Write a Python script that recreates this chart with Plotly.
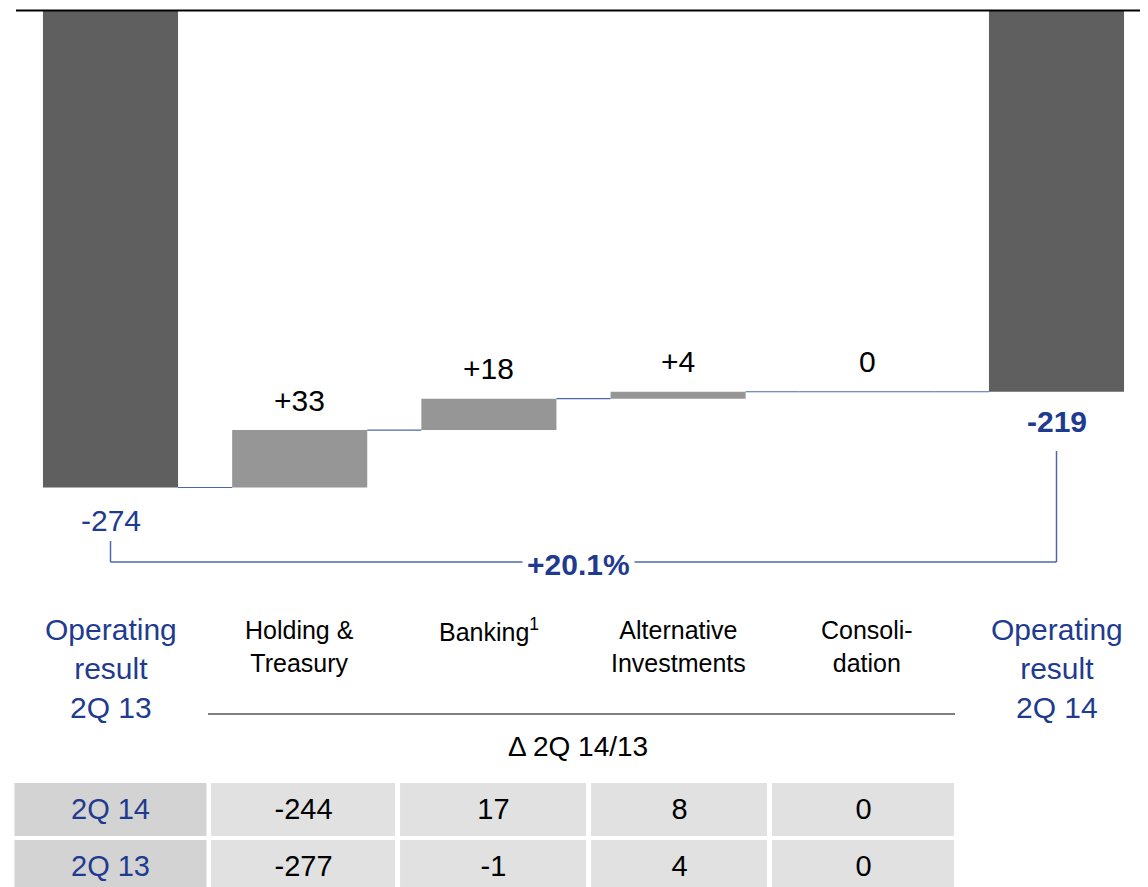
import plotly.graph_objects as go

# ---- data ----
categories = ["Operating<br>result<br>2Q 13", "Holding &<br>Treasury", "Banking<sup>1</sup>",
              "Alternative<br>Investments", "Consoli-<br>dation", "Operating<br>result<br>2Q 14"]
measures = ["absolute", "relative", "relative", "relative", "relative", "total"]
values = [-274, 33, 18, 4, 0, -219]

table_rows = ["2Q 14", "2Q 13"]
table_2q14 = [-244, 17, 8, 0]
table_2q13 = [-277, -1, 4, 0]

BLUE = "#1f3b8f"
LINE_BLUE = "#4c68aa"
DARK = "#5f5f5f"
LIGHT = "#969696"
FONT = "Arial, Liberation Sans, sans-serif"

# page body adds an 8px margin, so the figure is a bit smaller than the window
OFF = 8
W, H = 1148 - OFF, 887 - OFF

def px_(x):
    return (x - OFF) / W

def py(y):
    return 1 - (y - OFF) / H

fig = go.Figure()

n = len(values)
bw = 0.714
hw = bw / 2

fig.add_trace(go.Waterfall(
    x=list(range(n)), y=values, measure=measures,
    width=bw,
    totals=dict(marker=dict(color=DARK, line=dict(width=0))),
    increasing=dict(marker=dict(color=LIGHT, line=dict(width=0))),
    decreasing=dict(marker=dict(color=LIGHT, line=dict(width=0))),
    connector=dict(visible=False),
    hoverinfo="skip",
))

# cumulative levels
cum = []
level = 0
for m, v in zip(measures, values):
    if m == "absolute" or m == "total":
        level = v
    else:
        level = level + v
    cum.append(level)

# connectors
cx, cy = [], []
for i in range(n - 1):
    cx += [i + hw, i + 1 - hw, None]
    cy += [cum[i], cum[i], None]
    if measures[i] == "relative" and values[i] == 0:
        cx += [i - hw, i + hw, None]
        cy += [cum[i], cum[i], None]
fig.add_trace(go.Scatter(x=cx, y=cy, mode="lines", line=dict(color=LINE_BLUE, width=1.2),
                         hoverinfo="skip", showlegend=False))

annotations = []
# delta labels above relative bars
for i in range(n):
    if measures[i] == "relative":
        top = max(cum[i], cum[i] - values[i])
        txt = ("+%d" % values[i]) if values[i] > 0 else str(values[i])
        annotations.append(dict(x=i, y=top, xref="x", yref="y", text=txt, showarrow=False,
                                yanchor="middle", yshift=30,
                                font=dict(size=30, color="black", family=FONT)))

annotations.append(dict(x=0, y=values[0], xref="x", yref="y", text=str(values[0]), showarrow=False,
                        yanchor="middle", yshift=-33, font=dict(size=30, color=BLUE, family=FONT)))
annotations.append(dict(x=n - 1, y=values[-1], xref="x", yref="y", text="<b>%d</b>" % values[-1],
                        showarrow=False, yanchor="middle", yshift=-30,
                        font=dict(size=30, color=BLUE, family=FONT)))

# category labels
for i, c in enumerate(categories):
    if i == 0 or i == n - 1:
        annotations.append(dict(x=i, y=py(668), xref="x", yref="paper", text=c, showarrow=False,
                                yanchor="middle", font=dict(size=30, color=BLUE, family=FONT)))
    elif "<br>" in c:
        annotations.append(dict(x=i, y=py(646), xref="x", yref="paper", text=c, showarrow=False,
                                yanchor="middle", font=dict(size=25, color="black", family=FONT)))
    else:
        annotations.append(dict(x=i, y=py(630), xref="x", yref="paper", text=c, showarrow=False,
                                yanchor="middle", font=dict(size=25, color="black", family=FONT)))

# growth label on bracket
pct = (values[-1] - values[0]) / abs(values[0]) * 100
annotations.append(dict(x=px_(578), y=py(564), xref="paper", yref="paper", text="<b>%+.1f%%</b>" % pct,
                        showarrow=False, yanchor="middle", bgcolor="white", borderpad=4,
                        font=dict(size=30, color=BLUE, family=FONT)))

annotations.append(dict(x=px_(578), y=py(746), xref="paper", yref="paper", text="\u0394 2Q 14/13",
                        showarrow=False, yanchor="middle", font=dict(size=28, color="black", family=FONT)))

shapes = [
    # top baseline
    dict(type="line", xref="paper", yref="y", x0=px_(16), x1=1, y0=0, y1=0,
         line=dict(color="black", width=2)),
    # bracket
    dict(type="line", xref="x", yref="paper", x0=0, x1=0, y0=py(541), y1=py(562),
         line=dict(color=LINE_BLUE, width=1.5)),
    dict(type="line", xref="x", yref="paper", x0=0, x1=n - 1, y0=py(562), y1=py(562),
         line=dict(color=LINE_BLUE, width=1.5)),
    dict(type="line", xref="x", yref="paper", x0=n - 1, x1=n - 1, y0=py(451), y1=py(562),
         line=dict(color=LINE_BLUE, width=1.5)),
    # separator under category labels
    dict(type="line", xref="paper", yref="paper", x0=px_(208), x1=px_(955), y0=py(714), y1=py(714),
         line=dict(color="#555555", width=1.5)),
]

# ---- table as heatmaps ----
col_edges = [-0.5, 0.54, 1.54, 2.55, 3.51, 4.5]
fig.add_trace(go.Heatmap(
    x=col_edges[:2], y=[1, 0], z=[[0], [0]],
    text=[[table_rows[0]], [table_rows[1]]], texttemplate="%{text}",
    textfont=dict(size=29, color=BLUE, family=FONT),
    colorscale=[[0, "#d3d3d3"], [1, "#d3d3d3"]], showscale=False,
    xgap=5, ygap=4, hoverinfo="skip", xaxis="x2", yaxis="y2",
))
fig.add_trace(go.Heatmap(
    x=col_edges[1:], y=[1, 0], z=[[0] * 4, [0] * 4],
    text=[[str(v) for v in table_2q14], [str(v) for v in table_2q13]], texttemplate="%{text}",
    textfont=dict(size=29, color="black", family=FONT),
    colorscale=[[0, "#e1e1e1"], [1, "#e1e1e1"]], showscale=False,
    xgap=5, ygap=4, hoverinfo="skip", xaxis="x2", yaxis="y2",
))

# y scale: 0 at 10.5px, 1.7409 px per unit (reference frame)
ppu = 1.7409
y_top = (10.5 - OFF) / ppu
y_bot = -(887 - 10.5) / ppu
# x scale: category 0 centred at 110.5px, 189.2 px per category
ppc = 189.2
x_lo = -(110.5 - OFF) / ppc
x_hi = (1148 - 110.5) / ppc

fig.update_layout(
    width=W, height=H,
    margin=dict(l=0, r=0, t=0, b=0),
    plot_bgcolor="white", paper_bgcolor="white",
    showlegend=False,
    xaxis=dict(range=[x_lo, x_hi], domain=[0, 1], visible=False),
    yaxis=dict(range=[y_bot, y_top], domain=[0, 1], visible=False),
    xaxis2=dict(range=[-0.5, 4.5], domain=[px_(12.5), px_(957.5)], visible=False, anchor="y2"),
    yaxis2=dict(range=[-0.36, 1.5], domain=[0, py(781)], visible=False, anchor="x2"),
    annotations=annotations,
    shapes=shapes,
    font=dict(family=FONT),
)

fig.write_html("out.html")
